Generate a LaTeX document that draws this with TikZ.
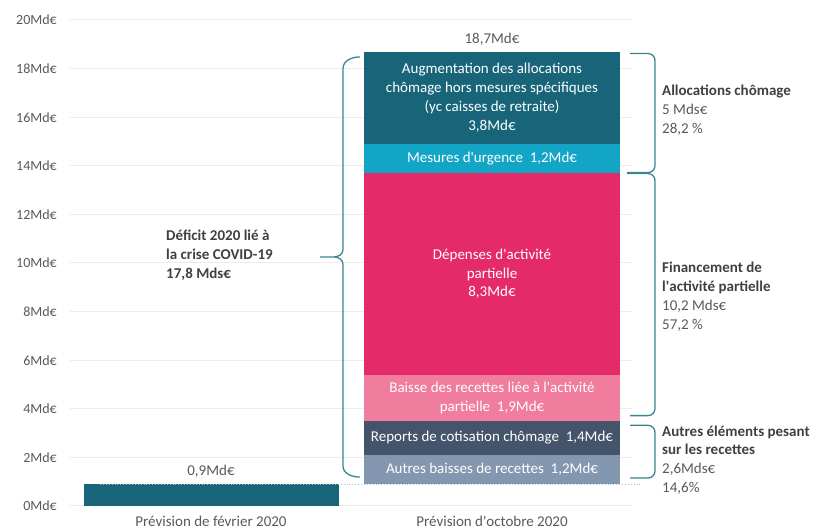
\documentclass[tikz,border=0pt]{standalone}
\usepackage{fontspec}
\setmainfont{Carlito}
\definecolor{tealdark}{HTML}{18657A}
\definecolor{cyanurg}{HTML}{12A5C6}
\definecolor{pinkdep}{HTML}{E52A69}
\definecolor{pinklight}{HTML}{F07D9E}
\definecolor{slatedark}{HTML}{44546A}
\definecolor{slatelight}{HTML}{8497B0}
\definecolor{bracecol}{HTML}{3A8592}
\definecolor{gridcol}{HTML}{ECECEC}
\definecolor{txtgray}{HTML}{595959}
\definecolor{txtdark}{HTML}{404040}
\definecolor{dotblue}{HTML}{9DC3E6}
\tikzset{
  axislabel/.style={anchor=east, inner sep=0pt, text=txtgray, font=\fontsize{14}{17}\selectfont},
  barlabel/.style={inner sep=0pt, text=white, align=center, font=\fontsize{15}{18.7}\selectfont},
  valuelabel/.style={inner sep=0pt, text=txtgray, font=\fontsize{15}{17}\selectfont},
  sidelabel/.style={anchor=west, inner sep=0pt, align=left, text=txtgray, font=\fontsize{15}{18.8}\selectfont},
  bracket/.style={draw=bracecol, line width=1.3pt},
}
\newcommand{\hdr}[1]{{\color{txtdark}\bfseries #1}}
\newcommand{\apos}{\textquotesingle}

\begin{document}
\begin{tikzpicture}[line join=miter, x={(1pt,0)}, y={(0,24.3pt)}]
  \useasboundingbox (0,-1.029) rectangle (819,20.823);
  % grid and axis
  \foreach \v in {0,2,...,20} {
    \path [draw=gridcol, line width=1pt] (70,\v) -- (633,\v);
    \node [axislabel] (ax\v) at (57,\v) {\v Md€};
  }
  % bars
  \path [fill=tealdark] (84,0) rectangle (339,0.9);
  \path [fill=slatelight] (364,0.9) rectangle (620,2.1);
  \path [fill=slatedark] (364,2.1) rectangle (620,3.5);
  \path [fill=pinklight] (364,3.5) rectangle (620,5.4);
  \path [fill=pinkdep] (364,5.4) rectangle (620,13.7);
  \path [fill=cyanurg] (364,13.7) rectangle (620,14.9);
  \path [fill=tealdark] (364,14.9) rectangle (620,18.7);
  \coordinate (fevtop) at (100,0.9);
  \coordinate (octbase) at (640,0.9);
  \draw [dotblue, dotted, line width=0.9pt] (fevtop) -- (octbase);

  \node [barlabel] (augm) at (492,16.8) {Augmentation des allocations\\chômage hors mesures spécifiques\\(yc caisses de retraite)\\3,8Md€};
  \node [barlabel] (urg) at (492,14.3) {Mesures d\apos urgence\ \ 1,2Md€};
  \node [barlabel] (dep) at (492,9.55) {Dépenses d\apos activité\\partielle\\8,3Md€};
  \node [barlabel] (baisse) at (492,4.45) {Baisse des recettes liée à l\apos activité\\partielle\ \ 1,9Md€};
  \node [barlabel] (reports) at (492,2.8) {Reports de cotisation chômage\ \ 1,4Md€};
  \node [barlabel] (autres) at (492,1.5) {Autres baisses de recettes\ \ 1,2Md€};

  \node [valuelabel] (tot) at (492,19.22) {18,7Md€};
  \node [valuelabel] (fev) at (211,1.44) {0,9Md€};
  \node [valuelabel] (catfev) at (211,-0.64) {Prévision de février 2020};
  \node [valuelabel] (catoct) at (492,-0.64) {Prévision d\apos octobre 2020};

  % left brace
  \path [bracket] (360,18.48) to[out=180, in=90] (343,18.0) -- (343,10.55)
    to[out=-90, in=0] (334,10.25) -- (320,10.25)
    (320,10.25) -- (334,10.25) to[out=0, in=90] (343,9.95) -- (343,1.65)
    to[out=-90, in=180] (360,1.19);
  \node [sidelabel] (deficit) at (166,10.33) {\hdr{Déficit 2020 lié à}\\\hdr{la crise COVID-19}\\\hdr{17,8 Mds€}};

  % right brackets
  \path [bracket, rounded corners=7pt] (630,18.62) -- (655,18.62) -- (655,13.72) -- (627,13.72);
  \path [bracket, rounded corners=7pt] (627,13.68) -- (655,13.68) -- (655,3.72) -- (630,3.72);
  \path [bracket, rounded corners=7pt] (630,3.32) -- (655,3.32) -- (655,1.15) -- (630,1.15);

  \node [sidelabel] (alloc) at (662,16.3) {\hdr{Allocations chômage}\\5 Mds€\\28,2 \%};
  \node [sidelabel] (finap) at (662,8.62) {\hdr{Financement de}\\\hdr{l\apos activité partielle}\\10,2 Mds€\\57,2 \%};
  \node [sidelabel] (autrel) at (662,1.89) {\hdr{Autres éléments pesant}\\\hdr{sur les recettes}\\2,6Mds€\\14,6\%};
\end{tikzpicture}
\end{document}
